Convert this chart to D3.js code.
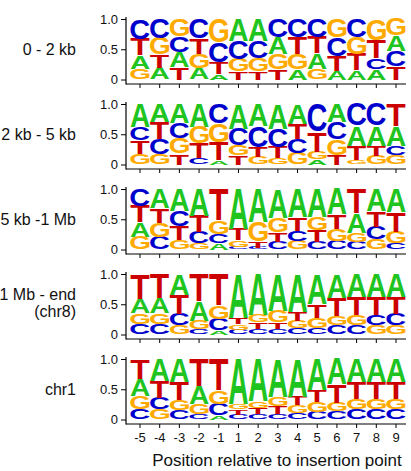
<!DOCTYPE html>
<html><head><meta charset="utf-8">
<script src="https://cdn.jsdelivr.net/npm/d3@7"></script>
<style>body{margin:0;background:#fff}svg{display:block}</style>
</head><body>
<script>
// ---- data ----
const positions = [-5,-4,-3,-2,-1,1,2,3,4,5,6,7,8,9];
const bases = ["A","C","G","T"];
const panelLabels = [["0 - 2 kb"],["2 kb - 5 kb"],["5 kb -1 Mb"],["1 Mb - end","(chr8)"],["chr1"]];
const yTicks = [0, 0.5, 1.0];
const xTitle = "Position relative to insertion point";

const p1A = [.22,.19,.255,.19,.09,.36,.36,.28,.17,.25,.14,.15,.17,.26];
const p1C = [.33,.32,.265,.32,.33,.30,.29,.30,.30,.30,.30,.30,.18,.25];
const p1G = [.18,.27,.28,.23,.39,.21,.22,.25,.25,.18,.31,.28,.35,.27];
const p1T = [.27,.22,.20,.26,.19,.13,.13,.17,.28,.27,.25,.27,.30,.22];

const p2A = [.38,.30,.31,.38,.07,.41,.37,.41,.33,.09,.30,.33,.33,.33];
const p2C = [.225,.25,.26,.10,.32,.27,.35,.30,.23,.46,.29,.36,.36,.16];
const p2G = [.18,.17,.25,.27,.31,.17,.12,.10,.19,.12,.25,.07,.14,.15];
const p2T = [.215,.28,.18,.25,.30,.15,.16,.19,.25,.33,.16,.24,.17,.36];

const p3A = [.24,.32,.36,.44,.10,.66,.55,.48,.47,.46,.42,.32,.36,.38];
const p3C = [.28,.21,.25,.19,.16,.04,.03,.13,.17,.12,.14,.12,.21,.10];
const p3G = [.21,.23,.15,.10,.22,.11,.32,.24,.14,.22,.20,.16,.17,.19];
const p3T = [.27,.24,.24,.27,.52,.19,.10,.15,.22,.20,.24,.40,.26,.33];

const p4A = [.24,.25,.34,.33,.07,.72,.68,.61,.63,.50,.39,.38,.38,.38];
const p4C = [.17,.17,.19,.09,.19,.08,.09,.09,.10,.11,.15,.15,.17,.19];
const p4G = [.18,.18,.15,.14,.22,.095,.12,.19,.13,.17,.16,.17,.15,.15];
const p4T = [.41,.40,.32,.44,.52,.105,.11,.11,.14,.22,.30,.30,.30,.28];

const p5A = [.28,.36,.38,.30,.07,.74,.70,.63,.62,.52,.42,.38,.38,.38];
const p5C = [.17,.19,.15,.09,.19,.08,.09,.09,.11,.12,.135,.165,.165,.165];
const p5G = [.22,.17,.17,.17,.22,.095,.11,.15,.13,.17,.145,.175,.175,.175];
const p5T = [.33,.28,.30,.44,.52,.085,.10,.13,.14,.19,.30,.28,.28,.28];

const panels = [
  {A:p1A,C:p1C,G:p1G,T:p1T},
  {A:p2A,C:p2C,G:p2G,T:p2T},
  {A:p3A,C:p3C,G:p3G,T:p3T},
  {A:p4A,C:p4C,G:p4G,T:p4T},
  {A:p5A,C:p5C,G:p5G,T:p5T}
];

// ---- style ----
const colors = {A:"#1fc41f", C:"#0000cc", G:"#ffaa00", T:"#cc0000"};
const W = 411, H = 471;
const FONT = "'Liberation Sans', Arial, Helvetica, sans-serif";
const panelStep = 85;

const svg = d3.select("body").append("svg").attr("width", W).attr("height", H);

const x = d3.scaleBand().domain(positions).range([130.15, 405.85]).padding(0);

// glyph tight bounds
const ctx = document.createElement("canvas").getContext("2d");
const FS = 100;
ctx.font = `bold ${FS}px "Liberation Sans"`;
const glyph = {};
bases.forEach(b => {
  const m = ctx.measureText(b);
  glyph[b] = {l: m.actualBoundingBoxLeft, r: m.actualBoundingBoxRight,
              a: m.actualBoundingBoxAscent, d: m.actualBoundingBoxDescent};
});

panels.forEach((pd, pi) => {
  const off = pi * panelStep;
  const y = d3.scaleLinear().domain([0, 1]).range([79.5 + off, 19 + off]);
  const axisY = 84 + off;
  const g = svg.append("g");

  // stacks
  positions.forEach((pos, j) => {
    const items = bases.map(b => ({b, v: pd[b][j]})).sort((a, c) => a.v - c.v);
    let cum = 0;
    const bw = x.bandwidth() * 0.97;
    const x0 = x(pos) + (x.bandwidth() - bw) / 2;
    items.forEach(it => {
      const yTop = y(cum + it.v), yBot = y(cum);
      cum += it.v;
      const h = yBot - yTop;
      if (h <= 0.05) return;
      const gm = glyph[it.b];
      const gw = gm.l + gm.r, gh = gm.a + gm.d;
      g.append("text")
        .attr("transform", `translate(${x0},${yTop}) scale(${bw / gw},${h / gh}) translate(${gm.l},${gm.a})`)
        .attr("font-family", FONT).attr("font-weight", "bold").attr("font-size", FS)
        .attr("fill", colors[it.b])
        .text(it.b);
    });
  });

  // y axis
  const ya = g.append("g").attr("transform", "translate(126,0)")
    .call(d3.axisLeft(y).tickValues(yTicks).tickSize(5).tickPadding(3)
      .tickFormat(d => d === 0 ? "0" : d3.format(".1f")(d)));
  ya.select(".domain").remove();
  ya.selectAll("text").attr("font-family", FONT).attr("font-size", 13).attr("fill", "#111");
  ya.selectAll("line").attr("stroke", "#000");
  g.append("line").attr("x1", 126).attr("x2", 126).attr("y1", y(1) - 2).attr("y2", axisY + 0.5)
    .attr("stroke", "#000").attr("stroke-width", 1.2);

  // x axis
  const xa = g.append("g").attr("transform", `translate(0,${axisY})`)
    .call(d3.axisBottom(x).tickSize(4).tickPadding(5)
      .tickFormat(d => pi === panels.length - 1 ? String(d) : ""));
  xa.select(".domain").remove();
  xa.selectAll("line").attr("stroke", "#000");
  xa.selectAll("text").attr("font-family", FONT).attr("font-size", 13).attr("fill", "#111");
  g.append("line").attr("x1", 126).attr("x2", 406).attr("y1", axisY).attr("y2", axisY)
    .attr("stroke", "#000").attr("stroke-width", 1.2);

  // panel label
  const lines = panelLabels[pi];
  const mid = y(0.5);
  const t = g.append("text").attr("text-anchor", "end")
    .attr("font-family", FONT).attr("font-size", 16).attr("fill", "#111");
  if (lines.length === 1) {
    t.append("tspan").attr("x", 76).attr("y", mid + 5.5).text(lines[0]);
  } else {
    t.append("tspan").attr("x", 76).attr("y", mid - 4).text(lines[0]);
    t.append("tspan").attr("x", 76).attr("y", mid + 13).text(lines[1]);
  }
});

svg.append("text").attr("x", 277).attr("y", 466).attr("text-anchor", "middle")
  .attr("font-family", FONT).attr("font-size", 17).attr("fill", "#111")
  .text(xTitle);
</script>
</body></html>
